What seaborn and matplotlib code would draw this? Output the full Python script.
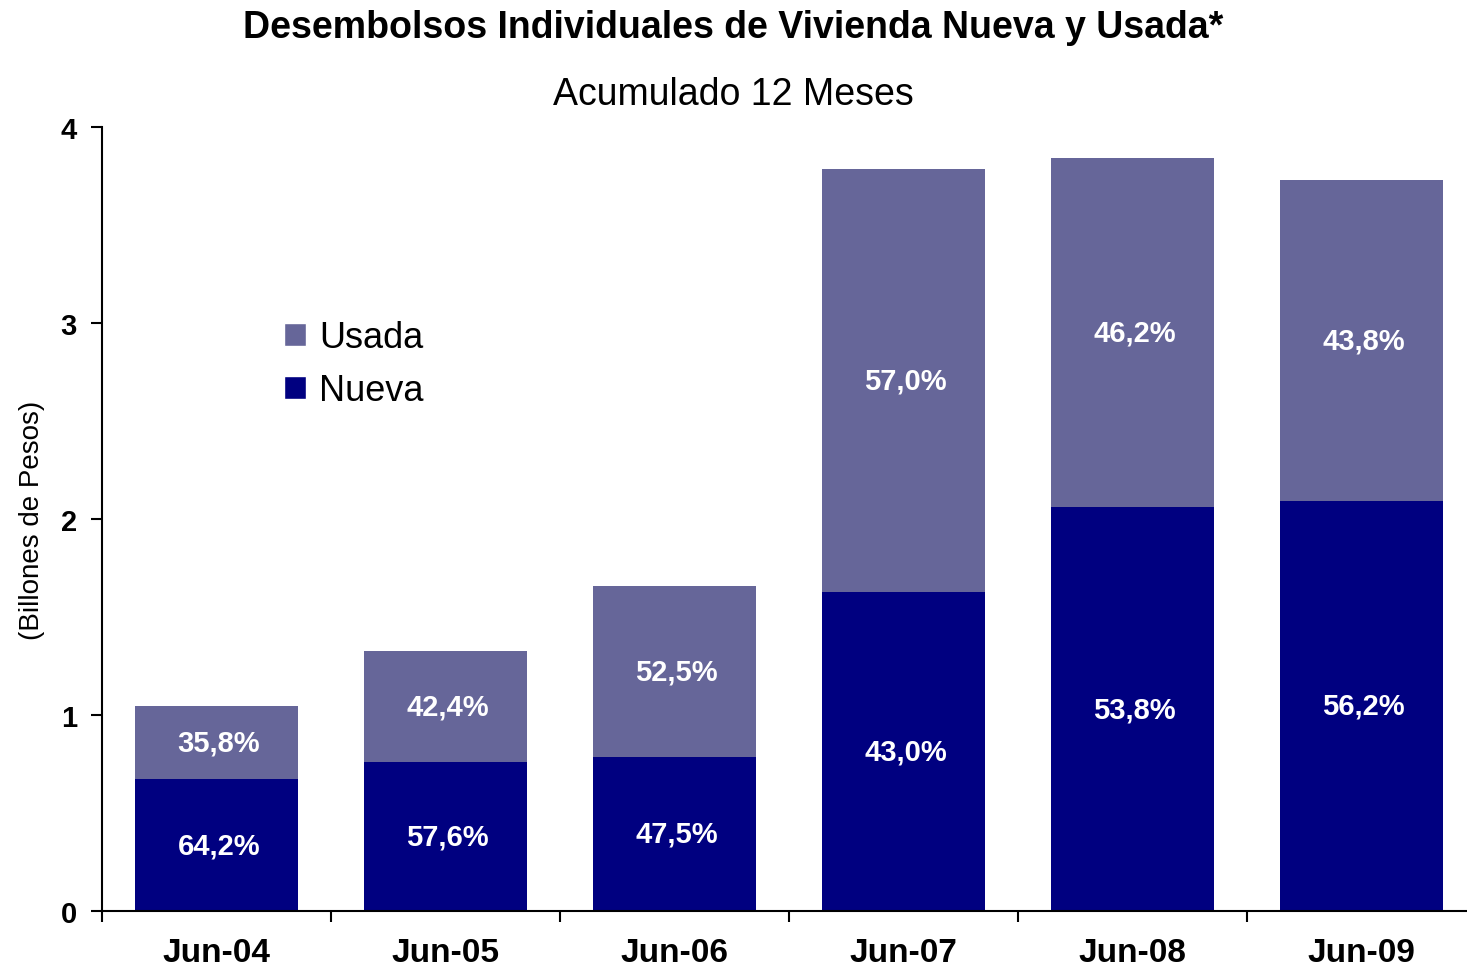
import matplotlib
matplotlib.use("Agg")
import matplotlib.pyplot as plt
import seaborn as sns
import pandas as pd
import numpy as np
from matplotlib.patches import Patch
from matplotlib.ticker import FixedLocator

categories = ["Jun-04", "Jun-05", "Jun-06", "Jun-07", "Jun-08", "Jun-09"]
nueva = [0.673, 0.762, 0.787, 1.628, 2.060, 2.094]
usada = [0.373, 0.565, 0.871, 2.158, 1.782, 1.636]
nueva_labels = ["64,2%", "57,6%", "47,5%", "43,0%", "53,8%", "56,2%"]
usada_labels = ["35,8%", "42,4%", "52,5%", "57,0%", "46,2%", "43,8%"]

c_nueva = "#000080"
c_usada = "#666699"

sns.set_theme(style="white")
plt.rcParams["font.family"] = ["Liberation Sans", "DejaVu Sans"]
plt.rcParams["text.color"] = "black"
plt.rcParams["axes.labelcolor"] = "black"
plt.rcParams["xtick.color"] = "black"
plt.rcParams["ytick.color"] = "black"

df = pd.DataFrame({"cat": categories, "nueva": nueva, "usada": usada})
df["total"] = df["nueva"] + df["usada"]

fig = plt.figure(figsize=(14.67, 9.70), dpi=100)
ax = fig.add_axes([102 / 1467, 58 / 970, 1374 / 1467, 784 / 970])

sns.barplot(data=df, x="cat", y="total", color=c_usada, saturation=1,
            width=0.71, ax=ax, linewidth=0)
sns.barplot(data=df, x="cat", y="nueva", color=c_nueva, saturation=1,
            width=0.71, ax=ax, linewidth=0)

for i in range(len(categories)):
    ax.text(i + 0.01, nueva[i] / 2, nueva_labels[i], ha="center", va="center",
            color="white", fontsize=21, fontweight="bold")
    ax.text(i + 0.01, nueva[i] + usada[i] / 2, usada_labels[i], ha="center", va="center",
            color="white", fontsize=21, fontweight="bold")

ax.set_xlim(-0.5, len(categories) - 0.5)
ax.set_ylim(0, 4)
ax.set_yticks([0, 1, 2, 3, 4])
ax.set_yticklabels(["0", "1", "2", "3", "4"], fontsize=21, fontweight="bold")
ax.set_xticks(range(len(categories)))
ax.set_xticklabels(categories, fontsize=24, fontweight="bold")
ax.xaxis.set_minor_locator(FixedLocator(np.arange(-0.5, len(categories), 1.0)))
ax.tick_params(axis="x", which="major", length=0, pad=19)
ax.tick_params(axis="x", which="minor", length=8, width=1.5, direction="out",
               bottom=True, color="black")
ax.tick_params(axis="y", which="major", length=8, width=1.5, direction="out",
               left=True, pad=10)

for s in ["top", "right"]:
    ax.spines[s].set_visible(False)
for s in ["left", "bottom"]:
    ax.spines[s].set_color("black")
    ax.spines[s].set_linewidth(1.5)

ax.set_xlabel("")
ax.set_ylabel("")
fig.text(32 / 1467, 1 - 520 / 970, "(Billones de Pesos)", rotation=90,
         ha="center", va="center", fontsize=20)

handles = [Patch(facecolor=c_usada, label="Usada"), Patch(facecolor=c_nueva, label="Nueva")]
ax.legend(handles=handles, loc="upper left", bbox_to_anchor=(0.122, 0.772),
          frameon=False, fontsize=26, handlelength=0.62, handleheight=0.62,
          handletextpad=0.35, labelspacing=0.5, borderaxespad=0)

fig.text(0.5, 0.971, "Desembolsos Individuales de Vivienda Nueva y Usada*",
         ha="center", va="center", fontsize=27, fontweight="bold")
fig.text(0.5, 0.902, "Acumulado 12 Meses", ha="center", va="center", fontsize=27)

fig.savefig("out.png", dpi=100)
